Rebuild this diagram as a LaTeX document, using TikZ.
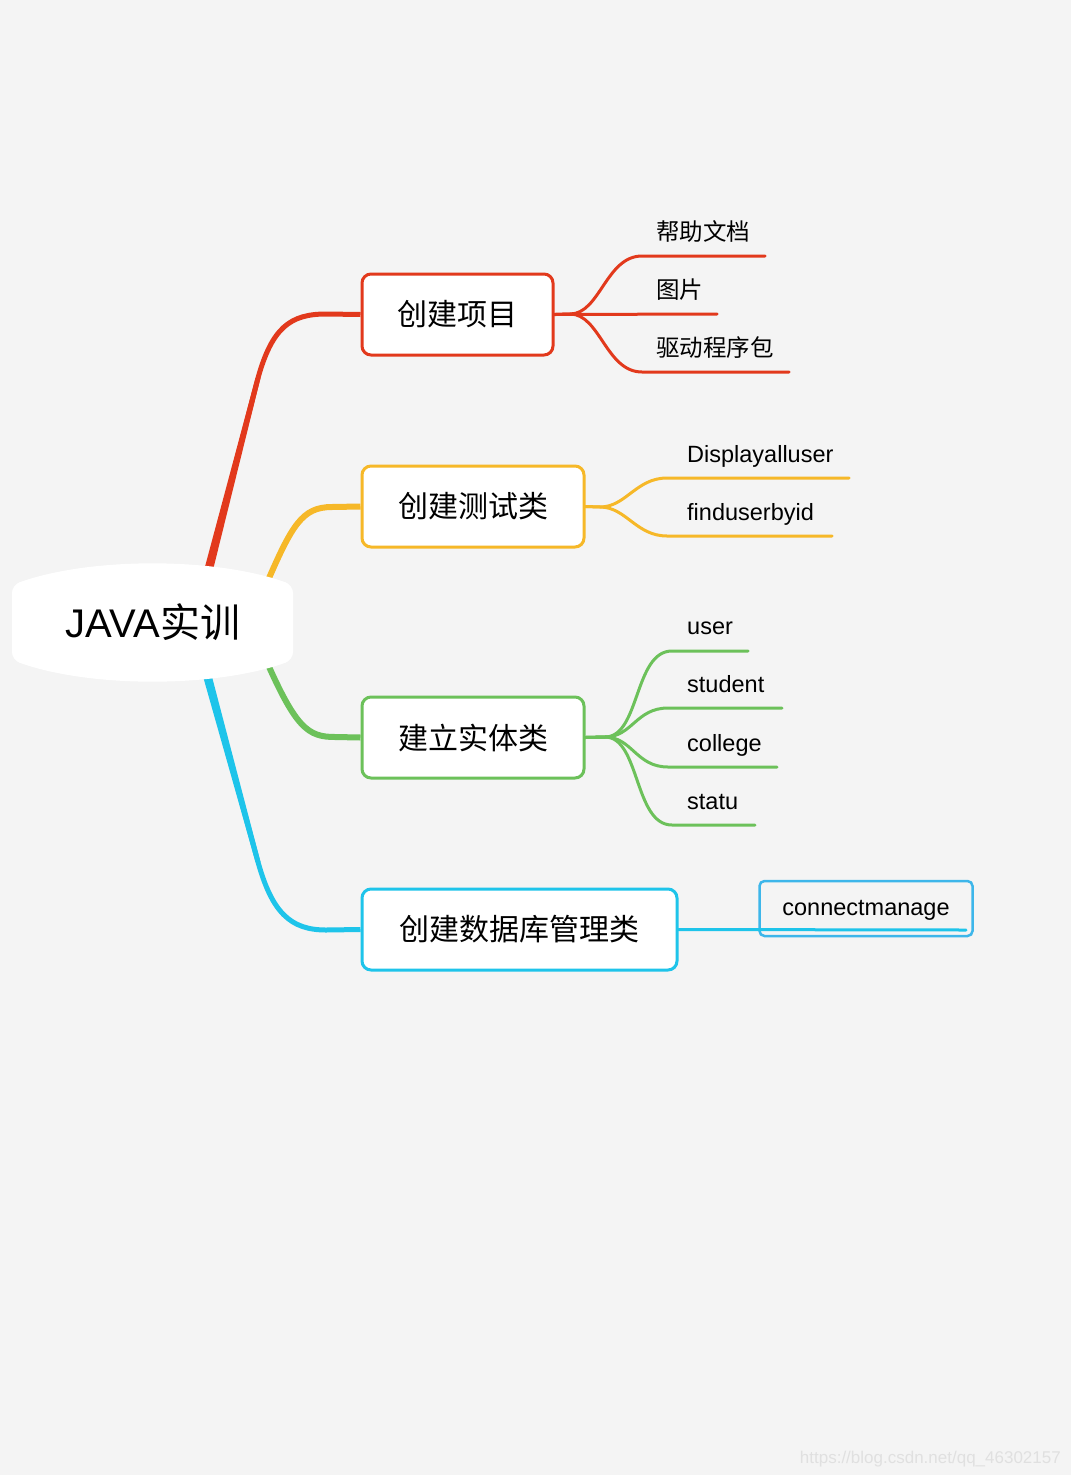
\documentclass[tikz,border=0pt]{standalone}
\usepackage{fontspec}
\setmainfont{Liberation Sans}
\newfontfamily\cjk{Noto Sans CJK SC}
\definecolor{bg}{HTML}{F4F4F4}
\definecolor{cred}{HTML}{E2391C}
\definecolor{cyel}{HTML}{F6B828}
\definecolor{cgrn}{HTML}{6CC15A}
\definecolor{cblu}{HTML}{1EC4EA}
\definecolor{cblu2}{HTML}{3DB6EA}
\definecolor{wm}{HTML}{E0E0E0}
\tikzset{
  mainbox/.style={draw, fill=white, rounded corners=9pt, line width=3pt, minimum height=81pt, inner sep=0pt, font=\cjk\fontsize{30}{36}\selectfont},
  branch/.style={line width=5pt, line cap=butt},
  twig/.style={line width=3pt, line cap=round},
  leaf/.style={anchor=base west, inner sep=0pt, font=\fontsize{23.5}{28}\selectfont},
  cjkleaf/.style={anchor=base west, inner sep=0pt, font=\cjk\fontsize{23.5}{28}\selectfont},
}
\begin{document}
\begin{tikzpicture}[x=1pt,y=-1pt]
\fill[bg] (0,0) rectangle (1071,1475);
\useasboundingbox (0,0) rectangle (1071,1475);

% main boxes
\node[mainbox, draw=cred, minimum width=191pt] (p1) at (457.5,314.5) {创建项目};
\node[mainbox, draw=cyel, minimum width=222pt] (p2) at (473,506.5) {创建测试类};
\node[mainbox, draw=cgrn, minimum width=222pt] (p3) at (473,737.5) {建立实体类};
\node[mainbox, draw=cblu, minimum width=315pt] (p4) at (519.5,929.5) {创建数据库管理类};

% root anchors
\coordinate (rR) at (207,575);
\coordinate (rY) at (266,585);
\coordinate (rG) at (266,660);
\coordinate (rB) at (206,672);

% main branches (red and blue tapered: thicker near root)
\draw[branch, cred] (rR) -- (258,378) .. controls (272,328) and (290,314) .. (326,314) -- (p1.west);
\fill[cred] (202.5,576) -- (211.5,576) -- (260.5,378) -- (255.5,378) -- cycle;
\draw[branch, cyel, line width=6pt] (rY) .. controls (292,525) and (302,507) .. (332,507) -- (p2.west);
\draw[branch, cgrn, line width=6pt] (rG) .. controls (296,728) and (308,737) .. (335,737) -- (p3.west);
\draw[branch, cblu] (rB) -- (258,862) .. controls (272,912) and (290,930) .. (326,930) -- (p4.west);
\fill[cblu] (201.5,671) -- (210.5,671) -- (260.5,862) -- (255.5,862) -- cycle;

% root shape
\fill[white, rounded corners=8pt] (12,622) -- (12,585) .. controls (90,557) and (215,557) .. (293,585) -- (293,660) .. controls (215,688) and (90,688) .. (12,660) -- cycle;
\node[inner sep=0pt] (root) at (153,622) {\fontsize{40}{48}\selectfont JAVA{\cjk 实训}};

% red leaves
\coordinate (e11) at (765,256);
\coordinate (e12) at (717,314);
\coordinate (e13) at (789,372);
\draw[twig, cred] (p1.east) -- (570,314) .. controls (600,314) and (606,256) .. (642,256) -- (e11);
\draw[twig, cred] (p1.east) -- (e12);
\draw[twig, cred] (p1.east) -- (570,314) .. controls (600,314) and (606,372) .. (642,372) -- (e13);
\node[cjkleaf] (l11) at (656,240) {帮助文档};
\node[cjkleaf] (l12) at (656,298) {图片};
\node[cjkleaf] (l13) at (656,356) {驱动程序包};

% yellow leaves
\coordinate (e21) at (849,478);
\coordinate (e22) at (832,536);
\draw[twig, cyel] (p2.east) -- (600,507) .. controls (626,507) and (636,478) .. (667,478) -- (e21);
\draw[twig, cyel] (p2.east) -- (600,507) .. controls (626,507) and (636,536) .. (667,536) -- (e22);
\node[leaf] (l21) at (687,462) {Displayalluser};
\node[leaf] (l22) at (687,520) {finduserbyid};

% green leaves
\coordinate (e31) at (748,651);
\coordinate (e32) at (782,708);
\coordinate (e33) at (777,767);
\coordinate (e34) at (755,825);
\draw[twig, cgrn] (p3.east) -- (605,737) .. controls (640,737) and (634,651) .. (672,651) -- (e31);
\draw[twig, cgrn] (p3.east) -- (605,737) .. controls (632,737) and (636,708) .. (668,708) -- (e32);
\draw[twig, cgrn] (p3.east) -- (605,737) .. controls (632,737) and (636,767) .. (668,767) -- (e33);
\draw[twig, cgrn] (p3.east) -- (605,737) .. controls (640,737) and (634,825) .. (672,825) -- (e34);
\node[leaf] (l31) at (687,634) {user};
\node[leaf] (l32) at (687,692) {student};
\node[leaf] (l33) at (687,751) {college};
\node[leaf] (l34) at (687,809) {statu};

% blue leaf
\node[draw=cblu2, line width=2.5pt, rounded corners=5pt, minimum width=213pt, minimum height=55pt, inner sep=0pt] (cm) at (866,908.5) {};
\node[inner sep=0pt, anchor=base] (cmt) at (866,915) {\fontsize{23.5}{28}\selectfont connectmanage};
\coordinate (e41) at (966,930);
\draw[twig, cblu] (p4.east) -- (e41);

% watermark
\node[anchor=base east, inner sep=0pt, text=wm, font=\fontsize{17}{20}\selectfont] (wmk) at (1061,1463) {https://blog.csdn.net/qq\_46302157};
\end{tikzpicture}
\end{document}
